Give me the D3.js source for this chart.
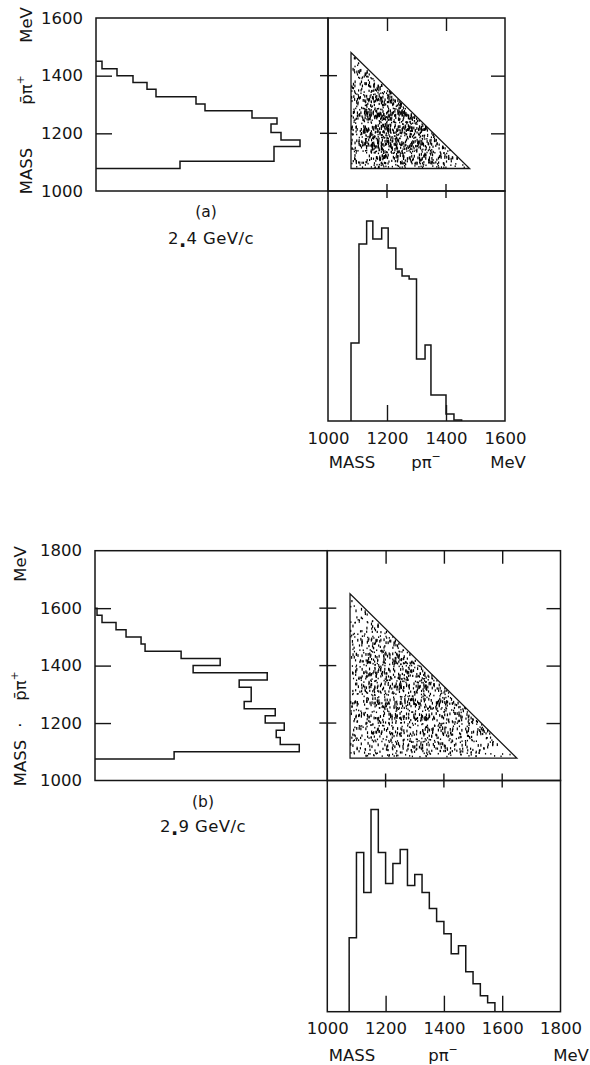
<!DOCTYPE html>
<html><head><meta charset="utf-8">
<script src="https://cdn.jsdelivr.net/npm/d3@7"></script>
<style>
body{margin:0;background:#fff}
svg{display:block}
text{font-family:"DejaVu Sans",sans-serif;fill:#151515}
</style>
</head><body>
<svg id="c" width="590" height="1065"></svg>
<script>
// ---------------- DATA ----------------
// Mass axis tick labels (MeV)
const massLabelsA = [1000, 1200, 1400, 1600];
const massLabelsB = [1000, 1200, 1400, 1600, 1800];
const innerTicksA = [1200, 1400];
const innerTicksB = [1200, 1400, 1600];

// (a) 2.4 GeV/c : pbar pi+ mass histogram (left panel), bin edges (MeV) and counts (arb. units)
const ppipEdgesA  = [1078, 1103, 1154, 1177, 1203, 1232, 1253, 1278, 1302, 1327, 1353, 1376, 1400, 1424, 1450];
const ppipCountsA = [84, 178, 204, 185, 175, 181, 156, 109, 100, 60, 51, 37, 21, 6];
// (a) p pi- mass histogram (bottom panel)
const ppimEdgesA  = [1078, 1105, 1131, 1152, 1182, 1204, 1230, 1251, 1275, 1300, 1329, 1349, 1400, 1427, 1453];
const ppimCountsA = [78, 177, 200, 182, 193, 173, 152, 145, 142, 62, 76, 26, 7, 1];

// (b) 2.9 GeV/c : pbar pi+ mass histogram
const ppipEdgesB  = [1075, 1100, 1125, 1150, 1175, 1200, 1225, 1250, 1275, 1300, 1325, 1350, 1375, 1400, 1425, 1450, 1475, 1500, 1525, 1550, 1575, 1600];
const ppipCountsB = [79, 204, 185, 181, 189, 170, 180, 149, 156, 156, 144, 172, 98, 125, 86, 50, 46, 31, 21, 7, 2];
// (b) p pi- mass histogram
const ppimEdgesB  = [1075, 1100, 1125, 1150, 1175, 1200, 1225, 1250, 1275, 1300, 1325, 1350, 1375, 1400, 1425, 1450, 1475, 1500, 1525, 1550, 1575];
const ppimCountsB = [74, 159, 119, 202, 159, 128, 148, 162, 126, 137, 119, 103, 90, 78, 58, 66, 40, 28, 16, 9];

// Scatter-plot kinematic triangle (MeV): [min mass, max mass]
const triangleA = [1078, 1480];
const triangleB = [1078, 1650];
// Estimated number of dots per cell of the scatter plot (rows: pbar pi+ mass from low to high,
// columns: p pi- mass from low to high); the last cell of each row is cut by the hypotenuse
const dotGridA = [
  [16, 28, 30, 35, 36, 30, 22, 6],
  [30, 52, 55, 50, 45, 32, 13],
  [32, 52, 58, 52, 48, 15],
  [30, 50, 55, 48, 25],
  [26, 42, 42, 22],
  [22, 30, 16],
  [17, 12],
  [6]
];
const dotGridB = [
  [11, 19, 18, 20, 20, 20, 20, 18, 14, 8, 2],
  [17, 25, 24, 26, 26, 26, 24, 22, 20, 9],
  [18, 26, 25, 28, 28, 29, 26, 24, 11],
  [18, 27, 27, 32, 32, 31, 26, 13],
  [18, 27, 26, 31, 30, 26, 12],
  [19, 34, 33, 38, 34, 12],
  [17, 32, 30, 32, 12],
  [15, 24, 22, 11],
  [13, 16, 8],
  [11, 7],
  [3]
];

const captionA = ["(a)", "2", "4 GeV/c"];
const captionB = ["(b)", "2", "9 GeV/c"];

// ---------------- LAYOUT ----------------
const layoutA = {x0: 96, x1: 328, x2: 505, y0: 18, y1: 191, y2: 421,
  countMaxX: 232, countMaxY: 230,
  yTitleX: 26, yTitle: {mev: 25, ppi: 90, dot: null, mass: 171},
  capX: [206, 211], capY: [212, 238],
  xTitleY: 462, xTitleX: {mass: 352, ppi: 426, mev: 508}};
const layoutB = {x0: 95, x1: 327.3, x2: 560.5, y0: 550.7, y1: 780.5, y2: 1011.7,
  countMaxX: 232, countMaxY: 231,
  yTitleX: 20, yTitle: {mev: 564, ppi: 686, dot: 725, mass: 763},
  capX: [203, 203], capY: [802, 826],
  xTitleY: 1055, xTitleX: {mass: 352, ppi: 443, mev: 571}};

const svg = d3.select("#c");
const INK = "#151515";
const FONT = 16.5;

// integer mixing + radical inverse: used only to spread the dots inside a density cell (layout)
function ihash(x) { x = (x ^ 61) ^ (x >>> 16); x = (x + (x << 3)) >>> 0; x ^= x >>> 4; x = Math.imul(x, 0x27d4eb2d) >>> 0; x ^= x >>> 15; return x >>> 0; }
function radInv(n, b) { let f = 1, r = 0; while (n > 0) { f /= b; r += f * (n % b); n = Math.floor(n / b); } return r; }

function drawPanel(L, massMax, labels, inner, ppipE, ppipC, ppimE, ppimC, tri, grid, caption, seed) {
  const g = svg.append("g");
  // scales
  const yM = d3.scaleLinear().domain([1000, massMax]).range([L.y1, L.y0]);   // pbar pi+ mass (vertical)
  const xM = d3.scaleLinear().domain([1000, massMax]).range([L.x1, L.x2]);   // p pi- mass (horizontal)
  const cX = d3.scaleLinear().domain([0, L.countMaxX]).range([L.x0, L.x1]); // counts, left histogram
  const cY = d3.scaleLinear().domain([0, L.countMaxY]).range([L.y2, L.y1]); // counts, bottom histogram

  // frames
  const frames = [[L.x0, L.y0, L.x1 - L.x0, L.y1 - L.y0], [L.x1, L.y0, L.x2 - L.x1, L.y1 - L.y0], [L.x1, L.y1, L.x2 - L.x1, L.y2 - L.y1]];
  g.selectAll("rect.frame").data(frames).join("rect").attr("class", "frame")
    .attr("x", d => d[0]).attr("y", d => d[1]).attr("width", d => d[2]).attr("height", d => d[3])
    .attr("fill", "none").attr("stroke", INK).attr("stroke-width", 1.5);

  // left axis labels
  const la = g.append("g").attr("transform", `translate(${L.x0},0)`)
    .call(d3.axisLeft(yM).tickValues(labels).tickSize(0).tickPadding(13).tickFormat(d3.format("d")));
  la.select(".domain").remove();
  la.selectAll("text").attr("font-size", FONT).attr("font-family", "DejaVu Sans").attr("fill", INK);
  // left inner ticks
  const lt = g.append("g").attr("transform", `translate(${L.x0},0)`)
    .call(d3.axisRight(yM).tickValues(inner).tickSize(16).tickFormat(""));
  lt.select(".domain").remove();
  lt.selectAll("line").attr("stroke", INK).attr("stroke-width", 1.4);

  // straddling ticks on the scatter-plot left and bottom borders
  g.selectAll("line.sl").data(inner).join("line").attr("class", "sl")
    .attr("x1", L.x1 - 8).attr("x2", L.x1 + 9).attr("y1", d => yM(d)).attr("y2", d => yM(d))
    .attr("stroke", INK).attr("stroke-width", 1.4);
  g.selectAll("line.sb").data(inner).join("line").attr("class", "sb")
    .attr("y1", L.y1 - 7).attr("y2", L.y1 + 7).attr("x1", d => xM(d)).attr("x2", d => xM(d))
    .attr("stroke", INK).attr("stroke-width", 1.4);
  // scatter top and right inner ticks
  const tt = g.append("g").attr("transform", `translate(0,${L.y0})`)
    .call(d3.axisBottom(xM).tickValues(inner).tickSize(13).tickFormat(""));
  tt.select(".domain").remove();
  tt.selectAll("line").attr("stroke", INK).attr("stroke-width", 1.4);
  const rt = g.append("g").attr("transform", `translate(${L.x2},0)`)
    .call(d3.axisLeft(yM).tickValues(inner).tickSize(14).tickFormat(""));
  rt.select(".domain").remove();
  rt.selectAll("line").attr("stroke", INK).attr("stroke-width", 1.4);
  // bottom histogram inner ticks + labels
  const bt = g.append("g").attr("transform", `translate(0,${L.y2})`)
    .call(d3.axisTop(xM).tickValues(inner).tickSize(16).tickFormat(""));
  bt.select(".domain").remove();
  bt.selectAll("line").attr("stroke", INK).attr("stroke-width", 1.4);
  const bl = g.append("g").attr("transform", `translate(0,${L.y2})`)
    .call(d3.axisBottom(xM).tickValues(labels).tickSize(0).tickPadding(11).tickFormat(d3.format("d")));
  bl.select(".domain").remove();
  bl.selectAll("text").attr("font-size", FONT).attr("font-family", "DejaVu Sans").attr("fill", INK);

  // left histogram (horizontal steps): counts grow to the right from the left border
  const lpts = [];
  const n1 = ppipC.length;
  lpts.push([0, ppipE[n1]]);
  for (let i = n1 - 1; i >= 0; i--) { lpts.push([ppipC[i], ppipE[i + 1]]); lpts.push([ppipC[i], ppipE[i]]); }
  lpts.push([0, ppipE[0]]);
  g.append("path").attr("d", d3.line().x(d => cX(d[0])).y(d => yM(d[1]))(lpts))
    .attr("fill", "none").attr("stroke", INK).attr("stroke-width", 1.5).attr("stroke-linejoin", "miter");

  // bottom histogram
  const bpts = [];
  const n2 = ppimC.length;
  bpts.push([ppimE[0], 0]);
  for (let i = 0; i < n2; i++) { bpts.push([ppimE[i], ppimC[i]]); bpts.push([ppimE[i + 1], ppimC[i]]); }
  bpts.push([ppimE[n2], 0]);
  g.append("path").attr("d", d3.line().x(d => xM(d[0])).y(d => cY(d[1]))(bpts))
    .attr("fill", "none").attr("stroke", INK).attr("stroke-width", 1.5);

  // triangle boundary
  const [tmin, tmax] = tri;
  const triPts = [[tmin, tmin], [tmin, tmax], [tmax, tmin]];
  g.append("path").attr("d", d3.line().x(d => xM(d[0])).y(d => yM(d[1]))(triPts) + "Z")
    .attr("fill", "none").attr("stroke", INK).attr("stroke-width", 1.3);

  // scatter dots: each cell holds the estimated count; inside a cell the dots
  // are spread on a hashed Halton pattern (layout only), kept inside the triangle
  const nCell = grid.length;
  const cs = (tmax - tmin) / nCell;
  const dots = [];
  let k = seed;
  grid.forEach((row, i) => row.forEach((cnt, j) => {
    let placed = 0, tries = 0;
    while (placed < cnt && tries < cnt * 8) {
      k++; tries++;
      const p = ihash(k) % 9999991 + 1;
      const u = radInv(p, 2), v = radInv(p, 3);
      const mx = tmin + (j + u) * cs, my = tmin + (i + v) * cs;
      if (mx < tmin + 2 || my < tmin + 2 || mx + my > tmin + tmax - 5) continue;
      dots.push([mx, my, p % 3]); placed++;
    }
  }));
  g.append("g").selectAll("rect").data(dots).join("rect")
    .attr("x", d => xM(d[0]) - 0.6).attr("y", d => yM(d[1]) - 1.3)
    .attr("width", 1.2).attr("height", d => 1.6 + d[2] * 0.6).attr("fill", "#000");

  // rotated y title: MASS  p̄π⁺  MeV
  const rot = (y, el) => el.attr("transform", `translate(${L.yTitleX},${y}) rotate(-90)`)
    .attr("text-anchor", "middle").attr("dominant-baseline", "central").attr("font-size", FONT);
  rot(L.yTitle.mev, g.append("text")).text("MeV");
  rot(L.yTitle.mass, g.append("text")).text("MASS");
  const pt = rot(L.yTitle.ppi, g.append("text"));
  pt.append("tspan").text("p\u0304\u03C0");
  pt.append("tspan").attr("font-size", 11).attr("dy", -6).text("+");
  if (L.yTitle.dot) rot(L.yTitle.dot, g.append("text")).text("\u00B7");

  // caption
  g.append("text").attr("x", L.capX[0]).attr("y", L.capY[0]).attr("text-anchor", "middle")
    .attr("dominant-baseline", "central").attr("font-size", 15.5).text(caption[0]);
  const c2 = g.append("text").attr("x", L.capX[1]).attr("y", L.capY[1]).attr("text-anchor", "middle")
    .attr("dominant-baseline", "central").attr("font-size", FONT).attr("letter-spacing", 0.4);
  c2.append("tspan").text(caption[1]);
  c2.append("tspan").attr("font-weight", "bold").attr("font-size", 19).attr("dy", 2).text(".");
  c2.append("tspan").attr("dy", -2).text(caption[2]);

  // x title: MASS  pπ⁻  MeV
  const xt = (x, el) => el.attr("x", x).attr("y", L.xTitleY).attr("text-anchor", "middle")
    .attr("dominant-baseline", "central").attr("font-size", FONT);
  xt(L.xTitleX.mass, g.append("text")).text("MASS");
  xt(L.xTitleX.mev, g.append("text")).text("MeV");
  const pm = xt(L.xTitleX.ppi, g.append("text"));
  pm.append("tspan").text("p\u03C0");
  pm.append("tspan").attr("font-size", 11).attr("dy", -6).text("\u2212");
}

drawPanel(layoutA, 1600, massLabelsA, innerTicksA, ppipEdgesA, ppipCountsA, ppimEdgesA, ppimCountsA, triangleA, dotGridA, captionA, 0);
drawPanel(layoutB, 1800, massLabelsB, innerTicksB, ppipEdgesB, ppipCountsB, ppimEdgesB, ppimCountsB, triangleB, dotGridB, captionB, 5000);
</script>
</body></html>
